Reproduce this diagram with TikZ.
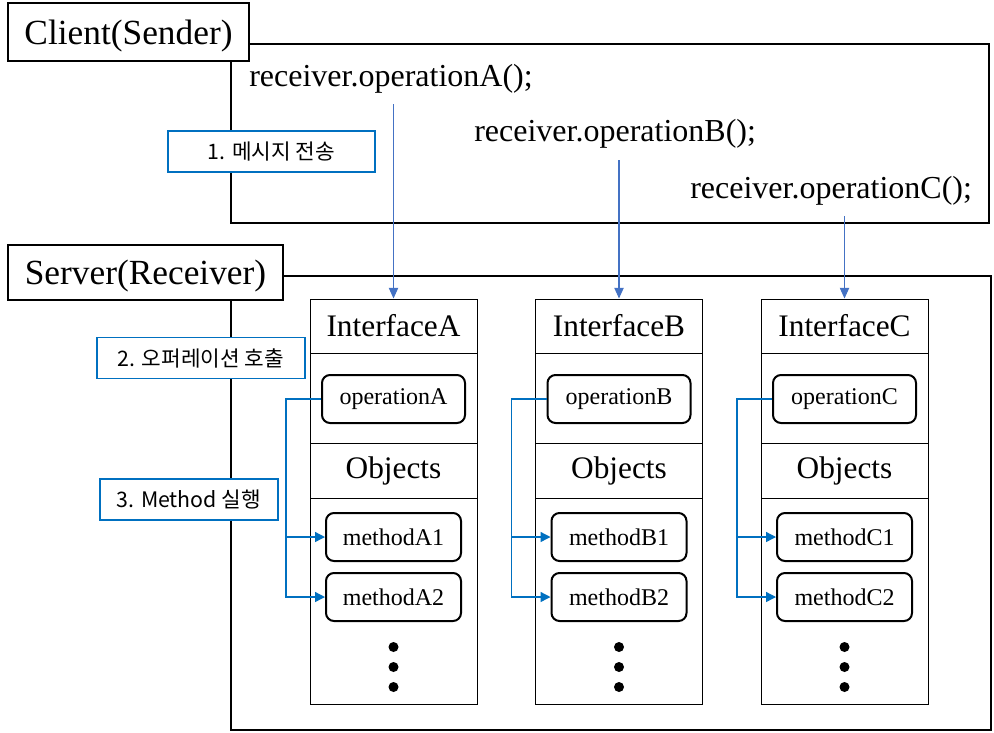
\documentclass[tikz,border=0pt]{standalone}
\usepackage{fontspec}
\setmainfont{Liberation Serif}
\newfontfamily\kofont{Noto Sans CJK KR}
\usetikzlibrary{arrows.meta}
\definecolor{stepblue}{HTML}{0070C0}
\definecolor{sendblue}{HTML}{4472C4}

\begin{document}
\begin{tikzpicture}[x=0.75pt, y=-0.75pt]
\tikzset{frame style/.style={draw=black, line width=1.5pt},
         title style/.style={shape=rectangle, draw=black, fill=white, line width=1.5pt, inner sep=0pt, text depth=0pt, font=\fontsize{26.5}{30}\selectfont},
         code style/.style={anchor=west, inner sep=0pt, font=\fontsize{24}{28}\selectfont},
         cell style/.style={shape=rectangle, draw=black, line width=0.75pt, minimum width=125.25pt, inner sep=0pt, font=\fontsize{23.5}{28}\selectfont},
         op style/.style={shape=rectangle, rounded corners=6pt, draw=black, line width=1.5pt, minimum height=36pt, inner sep=0pt, font=\fontsize{18}{22}\selectfont},
         dot style/.style={shape=circle, fill=black, minimum size=7.5pt, inner sep=0pt},
         step label/.style={shape=rectangle, draw=stepblue, fill=white, line width=1.3pt, inner sep=0pt, minimum height=30.75pt, font=\kofont\fontsize{16}{19}\selectfont},
         send/.style={draw=sendblue, line width=0.8pt, -{Triangle[length=8pt, width=7pt]}},
         call/.style={draw=stepblue, line width=1pt, -{Triangle[length=7.5pt, width=7.5pt]}}}

\useasboundingbox (0, 0) rectangle (994, 732);

% sender and receiver frames
\draw[frame style] (231, 44) rectangle (989, 223);
\draw[frame style] (231, 276) rectangle (991, 730);

\node[title style, minimum width=180.75pt, minimum height=43.5pt] at (128.5, 32)    (client)  {Client(Sender)};
\node[title style, minimum width=206.25pt, minimum height=41.25pt] at (145.5, 272.5) (server) {Server(Receiver)};

\node[code style] at (249, 79)   (codeA)  {receiver.operationA();};
\node[code style] at (474, 134)  (codeB)  {receiver.operationB();};
\node[code style] at (690, 191)  (codeC)  {receiver.operationC();};

% interface A
\node[cell style, minimum height=40.5pt]  at (393.5, 326)   (titleA)   {InterfaceA};
\node[cell style, minimum height=67.5pt]  at (393.5, 398)   (opcellA)  {};
\node[cell style, minimum height=41.25pt] at (393.5, 470.5) (objA)     {Objects};
\node[cell style, minimum height=154.5pt] at (393.5, 601)   (mcellA)   {};
\node[op style, minimum width=107.25pt]   at (393.5, 399)   (opA)      {operationA};
\node[op style, minimum width=101.25pt]   at (393.5, 537)   (mA1)      {methodA1};
\node[op style, minimum width=101.25pt]   at (393.5, 597)   (mA2)      {methodA2};
\node[dot style] at (393.5, 647) (dotA1) {};
\node[dot style] at (393.5, 667) (dotA2) {};
\node[dot style] at (393.5, 687) (dotA3) {};

% interface B
\node[cell style, minimum height=40.5pt]  at (619, 326)   (titleB)   {InterfaceB};
\node[cell style, minimum height=67.5pt]  at (619, 398)   (opcellB)  {};
\node[cell style, minimum height=41.25pt] at (619, 470.5) (objB)     {Objects};
\node[cell style, minimum height=154.5pt] at (619, 601)   (mcellB)   {};
\node[op style, minimum width=107.25pt]   at (619, 399)   (opB)      {operationB};
\node[op style, minimum width=101.25pt]   at (619, 537)   (mB1)      {methodB1};
\node[op style, minimum width=101.25pt]   at (619, 597)   (mB2)      {methodB2};
\node[dot style] at (619, 647) (dotB1) {};
\node[dot style] at (619, 667) (dotB2) {};
\node[dot style] at (619, 687) (dotB3) {};

% interface C
\node[cell style, minimum height=40.5pt]  at (844.5, 326)   (titleC)   {InterfaceC};
\node[cell style, minimum height=67.5pt]  at (844.5, 398)   (opcellC)  {};
\node[cell style, minimum height=41.25pt] at (844.5, 470.5) (objC)     {Objects};
\node[cell style, minimum height=154.5pt] at (844.5, 601)   (mcellC)   {};
\node[op style, minimum width=107.25pt]   at (844.5, 399)   (opC)      {operationC};
\node[op style, minimum width=101.25pt]   at (844.5, 537)   (mC1)      {methodC1};
\node[op style, minimum width=101.25pt]   at (844.5, 597)   (mC2)      {methodC2};
\node[dot style] at (844.5, 647) (dotC1) {};
\node[dot style] at (844.5, 667) (dotC2) {};
\node[dot style] at (844.5, 687) (dotC3) {};

% step labels
\node[step label, minimum width=155.25pt] at (271.5, 151.5) (step1) {1. 메시지 전송};
\node[step label, minimum width=156pt]    at (201, 358)     (step2) {2. 오퍼레이션 호출};
\node[step label, minimum width=133.5pt]  at (189, 499.5)   (step3) {3. Method 실행};

% messages
\coordinate (sendA) at (393.5, 104);
\coordinate (sendB) at (619, 160);
\coordinate (sendC) at (844.5, 216);
\draw[send] (sendA) -- (titleA.north);
\draw[send] (sendB) -- (titleB.north);
\draw[send] (sendC) -- (titleC.north);

% method calls
\draw[call] (opA.west) -- ++(-35, 0) |- (mA1.west);
\draw[call] (opA.west) -- ++(-35, 0) |- (mA2.west);
\draw[call] (opB.west) -- ++(-35, 0) |- (mB1.west);
\draw[call] (opB.west) -- ++(-35, 0) |- (mB2.west);
\draw[call] (opC.west) -- ++(-35, 0) |- (mC1.west);
\draw[call] (opC.west) -- ++(-35, 0) |- (mC2.west);

\end{tikzpicture}
\end{document}
